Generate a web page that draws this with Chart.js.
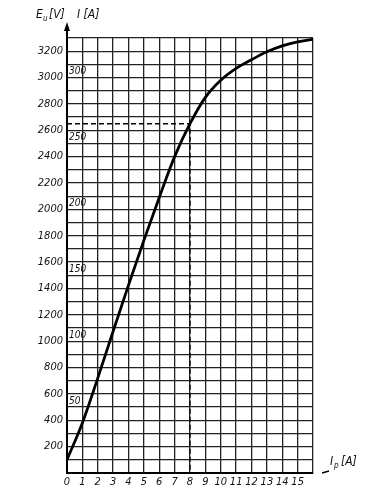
<!DOCTYPE html>
<html>
<head>
<meta charset="utf-8">
<script src="https://cdn.jsdelivr.net/npm/chart.js@4"></script>
<style>
  html, body { margin: 0; padding: 0; background: #fff; }
  canvas { display: block; }
</style>
</head>
<body>
<canvas id="chart" width="387" height="490"></canvas>
<script>
// data
const IP_VALUES = [0, 1, 2, 3, 4, 5, 6, 7, 8, 9, 10, 11, 12, 13, 14, 15, 16];
const EU_VALUES = [100, 380, 720, 1075, 1425, 1765, 2090, 2400, 2650, 2850, 2980, 3070, 3135, 3195, 3240, 3270, 3290];
const X_LABELS = [0, 1, 2, 3, 4, 5, 6, 7, 8, 9, 10, 11, 12, 13, 14, 15];
const Y_LABELS = [200, 400, 600, 800, 1000, 1200, 1400, 1600, 1800, 2000, 2200, 2400, 2600, 2800, 3000, 3200];
const I_LABELS = [50, 100, 150, 200, 250, 300];
const V_PER_A = 10;            // I scale: 10 V per A on the Eu scale
const MARK_IP = 8;
const MARK_EU = 2650;

const FONT = "'Liberation Sans Narrow', 'DejaVu Sans Condensed', 'Liberation Sans', sans-serif";

const extras = {
    id: 'extras',
    afterDraw(chart) {
        const ctx = chart.ctx;
        const a = chart.chartArea;
        const y = chart.scales.y;
        ctx.save();
        // I [A] labels inside the plot
        ctx.fillStyle = '#111';
        ctx.font = 'italic 10px ' + FONT;
        ctx.textAlign = 'left';
        ctx.textBaseline = 'bottom';
        I_LABELS.forEach(i => {
            ctx.fillText(String(i), a.left + 2, y.getPixelForValue(i * V_PER_A) - 1);
        });
        // y axis arrow
        ctx.strokeStyle = '#000';
        ctx.lineWidth = 2;
        ctx.beginPath();
        ctx.moveTo(a.left, a.top);
        ctx.lineTo(a.left, a.top - 12);
        ctx.stroke();
        ctx.fillStyle = '#000';
        ctx.beginPath();
        ctx.moveTo(a.left, a.top - 16);
        ctx.lineTo(a.left - 3, a.top - 7);
        ctx.lineTo(a.left + 3, a.top - 7);
        ctx.closePath();
        ctx.fill();
        // axis titles
        ctx.fillStyle = '#111';
        ctx.font = 'italic 12px ' + FONT;
        ctx.textBaseline = 'alphabetic';
        ctx.fillText('E', 36, 18);
        ctx.font = 'italic 8px ' + FONT;
        ctx.fillText('u', 43, 21);
        ctx.font = 'italic 12px ' + FONT;
        ctx.fillText('[V]', 49, 18);
        ctx.fillText('I [A]', 77, 18);
        ctx.fillText('I', a.right + 17, a.bottom - 8);
        ctx.font = 'italic 8px ' + FONT;
        ctx.fillText('p', a.right + 21, a.bottom - 5);
        ctx.font = 'italic 12px ' + FONT;
        ctx.fillText('[A]', a.right + 28, a.bottom - 8);
        ctx.lineWidth = 1.5;
        ctx.beginPath();
        ctx.moveTo(a.right + 9, a.bottom);
        ctx.lineTo(a.right + 16, a.bottom - 2);
        ctx.stroke();
        ctx.restore();
    }
};

new Chart(document.getElementById('chart'), {
    type: 'line',
    data: {
        datasets: [{
            label: 'Eu',
            data: IP_VALUES.map((v, i) => ({ x: v, y: EU_VALUES[i] })),
            borderColor: '#000',
            borderWidth: 2.8,
            pointRadius: 0,
            cubicInterpolationMode: 'monotone',
            fill: false
        }, {
            label: 'mark',
            data: [{ x: 0, y: MARK_EU }, { x: MARK_IP, y: MARK_EU }, { x: MARK_IP, y: 0 }],
            borderColor: '#000',
            borderWidth: 1.4,
            borderDash: [5, 3],
            pointRadius: 0,
            tension: 0,
            fill: false
        }]
    },
    options: {
        responsive: false,
        animation: false,
        devicePixelRatio: 1,
        layout: { padding: { top: 38, right: 74, left: 0, bottom: 0 } },
        plugins: { legend: { display: false }, tooltip: { enabled: false } },
        scales: {
            x: {
                type: 'linear',
                min: 0,
                max: 16,
                afterFit: s => { s.height = 17; },
                ticks: {
                    stepSize: 1,
                    autoSkip: false,
                    maxRotation: 0,
                    padding: 3,
                    color: '#111',
                    font: { family: FONT, style: 'italic', size: 11 },
                    callback: v => X_LABELS.includes(v) ? String(v) : ''
                },
                grid: { color: '#222', lineWidth: 1.3, drawTicks: false },
                border: { color: '#000', width: 2 }
            },
            y: {
                min: 0,
                max: 3300,
                afterFit: s => { s.width = 67; },
                ticks: {
                    stepSize: 100,
                    autoSkip: false,
                    padding: 4,
                    color: '#111',
                    font: { family: FONT, style: 'italic', size: 11 },
                    callback: v => Y_LABELS.includes(v) ? String(v) : ''
                },
                grid: { color: '#222', lineWidth: 1.3, drawTicks: false },
                border: { color: '#000', width: 2 }
            }
        }
    },
    plugins: [extras]
});
</script>
</body>
</html>
